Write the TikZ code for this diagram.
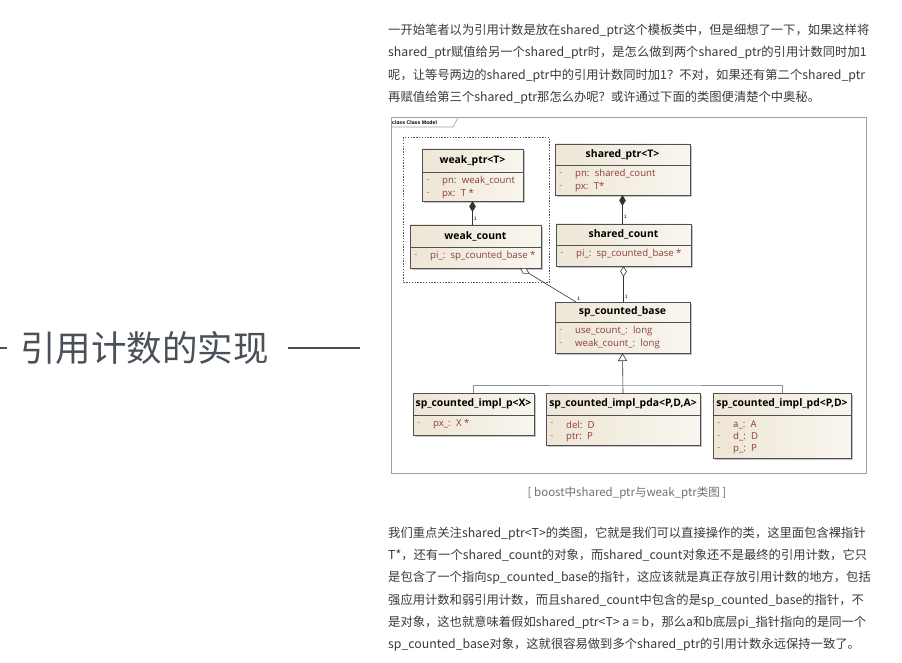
\documentclass[tikz,border=0pt]{standalone}
\usepackage{fontspec}
\setmainfont{Noto Sans CJK SC}
\newfontfamily\headfont{Noto Sans CJK SC}
\newfontfamily\umlfont{Open Sans}
\newfontfamily\tabfont{Liberation Sans}
\usetikzlibrary{arrows.meta,calc}
\definecolor{bodytext}{HTML}{3A3A3A}
\definecolor{headgray}{HTML}{4A5058}
\definecolor{capgray}{HTML}{707070}
\definecolor{framegray}{HTML}{A0A0A0}
\definecolor{boxborder}{HTML}{505050}
\definecolor{boxleft}{HTML}{EEE6D6}
\definecolor{boxright}{HTML}{F9F6EF}
\definecolor{attrred}{HTML}{8E3B3B}
\definecolor{shadowgray}{HTML}{C4C4C4}

% one UML class: name, x1, y1, x2, y2, header line y, title, attributes
\newcommand{\umlclass}[8]{%
  \fill[shadowgray] (#2+2,#3+2) rectangle (#4+2,#5+2);
  \node[classbox, minimum width={(#4-#2)*1pt}, minimum height={(#5-#3)*1pt}] (#1) at (#2,#3) {};
  \draw[boxborder, line width=0.7pt] (#2,#6) -- (#4,#6);
  \node[classtitle] (#1-title) at ({(#2+#4)/2},{(#3+#6)/2}) {#7};
  \foreach \attr [count=\k] in {#8}{
    \node[attrtext, text=attrred!70] (#1-d\k) at (#2+6,#6+9.5+12.5*\k-12.5) {-};
    \node[attrtext, anchor=west] (#1-a\k) at (#2+20,#6+9.5+12.5*\k-12.5) {\attr};
  }%
}

\begin{document}
\begin{tikzpicture}[x=1pt,y=-1pt,
  bodyline/.style={anchor=west, inner sep=0pt, text=bodytext, font=\fontsize{12.3}{14}\selectfont},
  classbox/.style={draw=boxborder, line width=0.8pt, left color=boxleft, right color=boxright,
    anchor=north west, inner sep=0pt, outer sep=0pt},
  classtitle/.style={inner sep=0pt, font=\umlfont\bfseries\fontsize{10.4}{12}\selectfont},
  attrtext/.style={inner sep=0pt, text=attrred, font=\umlfont\fontsize{9.6}{11}\selectfont},
  assoc/.style={draw=black!80, line width=0.6pt},
  mult/.style={inner sep=1pt, font=\tabfont\fontsize{5}{6}\selectfont},
  headline/.style={draw=headgray, line width=2.2pt}]
\useasboundingbox[fill=white] (0,0) rectangle (902,663);

% section heading on the left
\node[anchor=west, inner sep=0pt, text=headgray, font=\headfont\fontsize{35.5}{40}\selectfont] (head) at (20,348) {引用计数的实现};
\draw[headline] (0,348) -- (7,348);
\draw[headline] (288,348) -- (360,348);

% paragraph above the figure
\foreach \t [count=\i] in {%
  一开始笔者以为引用计数是放在shared\_ptr这个模板类中，但是细想了一下，如果这样将,
  shared\_ptr赋值给另一个shared\_ptr时，是怎么做到两个shared\_ptr的引用计数同时加1,
  呢，让等号两边的shared\_ptr中的引用计数同时加1？不对，如果还有第二个shared\_ptr,
  再赋值给第三个shared\_ptr那怎么办呢？或许通过下面的类图便清楚个中奥秘。}
  \node[bodyline] (p\i) at (388,31+22.2*\i-22.2) {\t};

% frame of the class model
\node[draw=framegray, line width=0.8pt, anchor=north west, inner sep=0pt,
  minimum width=475pt, minimum height=355pt] (model) at (390.5,117.5) {};
\node[anchor=west, inner sep=1pt, font=\tabfont\bfseries\fontsize{5.2}{6}\selectfont] (modellbl) at (391,122.3) {class Class Model};
\draw[framegray, line width=0.6pt] (390.5,127) -- (453,127) -- (458,117.5);

\node[draw=black!65, dash pattern=on 1.4pt off 1.4pt, line width=0.7pt, anchor=north west,
  inner sep=0pt, minimum width=146pt, minimum height=145pt] (wgroup) at (403,137) {};

\umlclass{wptr}{422}{149}{523}{201}{172}{weak\_ptr<T>}{pn:\hspace{0.55em}weak\_count, px:\hspace{0.55em}T *}
\umlclass{wcount}{410}{225}{541}{268}{247}{weak\_count}{pi\_:\hspace{0.55em}sp\_counted\_base *}
\umlclass{sptr}{555}{144}{690}{195}{165}{shared\_ptr<T>}{pn:\hspace{0.55em}shared\_count, px:\hspace{0.55em}T*}
\umlclass{scount}{556}{224}{691}{266}{245}{shared\_count}{pi\_:\hspace{0.55em}sp\_counted\_base *}
\umlclass{spbase}{555}{302}{690}{353}{322}{sp\_counted\_base}{use\_count\_:\hspace{0.55em}long, weak\_count\_:\hspace{0.55em}long}
\umlclass{implp}{413}{393}{534}{435}{415}{sp\_counted\_impl\_p<X>}{px\_:\hspace{0.55em}X *}
\umlclass{implpda}{546}{393}{700}{445}{415}{sp\_counted\_impl\_pda<P,D,A>}{del:\hspace{0.55em}D, ptr:\hspace{0.55em}P}
\umlclass{implpd}{713}{393}{851}{458}{415}{sp\_counted\_impl\_pd<P,D>}{a\_:\hspace{0.55em}A, d\_:\hspace{0.55em}D, p\_:\hspace{0.55em}P}

% compositions and aggregations
\draw[assoc, {Diamond[length=11pt,width=6.5pt]}-] (wptr.south) -- (wptr.south |- wcount.north)
  node[mult, pos=0.75, right] {1};
\draw[assoc, {Diamond[length=11pt,width=6.5pt]}-] (sptr.south) -- (sptr.south |- scount.north)
  node[mult, pos=0.75, right] {1};
\draw[assoc, {Diamond[fill=white,length=11pt,width=6.5pt]}-] (scount.south) -- (scount.south |- spbase.north)
  node[mult, pos=0.85, right] {1};
\draw[assoc, {Diamond[fill=white,length=11pt,width=6.5pt]}-] ($(wcount.south west)!0.84!(wcount.south east)$)
  -- ([xshift=21pt]spbase.north west) node[mult, above right] {1};

% generalisation
\coordinate (bus) at ($(spbase.south)!0.8!(implpda.north)$);
\draw[assoc, -{Triangle[open,fill=white,length=8pt,width=9pt]}] (implpda.north) -- (spbase.south);
\draw[draw=black!45, line width=0.6pt] (implp.north) |- (bus) -| (implpd.north);

% caption and paragraph below
\node[inner sep=0pt, text=capgray, font=\fontsize{11.5}{13}\selectfont] (caption) at (627,493) {[ boost中shared\_ptr与weak\_ptr类图 ]};
\foreach \t [count=\i] in {%
  我们重点关注shared\_ptr<T>的类图，它就是我们可以直接操作的类，这里面包含裸指针,
  T*，还有一个shared\_count的对象，而shared\_count对象还不是最终的引用计数，它只,
  是包含了一个指向sp\_counted\_base的指针，这应该就是真正存放引用计数的地方，包括,
  强应用计数和弱引用计数，而且shared\_count中包含的是sp\_counted\_base的指针，不,
  是对象，这也就意味着假如shared\_ptr<T> a = b，那么a和b底层pi\_指针指向的是同一个,
  sp\_counted\_base对象，这就很容易做到多个shared\_ptr的引用计数永远保持一致了。}
  \node[bodyline] (q\i) at (388,533.3+22.3*\i-22.3) {\t};
\end{tikzpicture}
\end{document}
